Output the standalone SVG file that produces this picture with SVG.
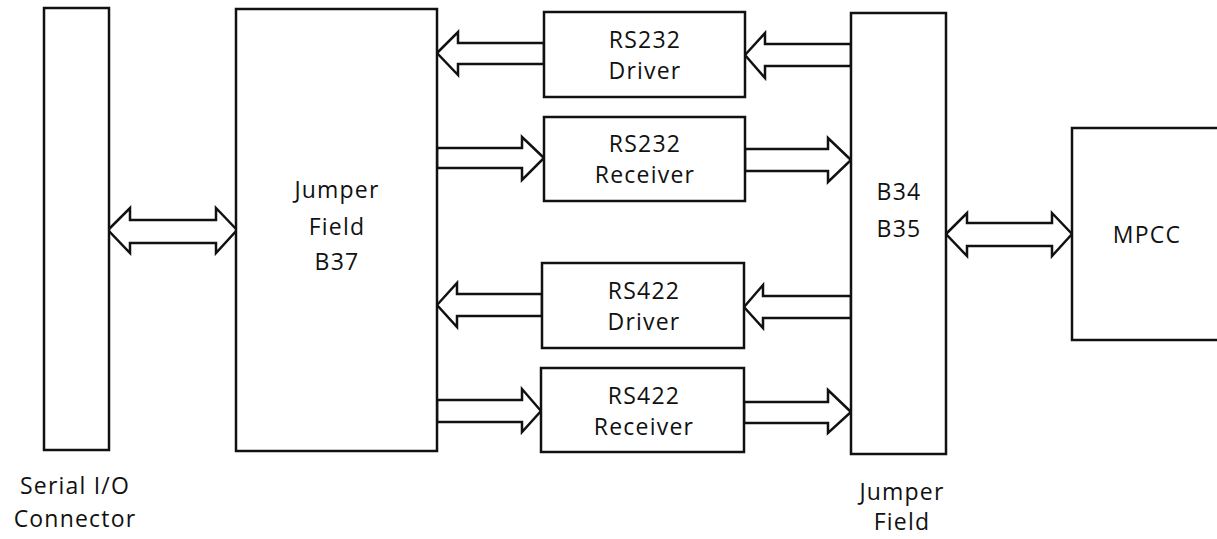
<svg xmlns="http://www.w3.org/2000/svg" width="1217" height="539" viewBox="0 0 1217 539">
<style>
.box{fill:#fff;stroke:#111;stroke-width:2.5}
.arr{fill:#fff;stroke:#111;stroke-width:2.5;stroke-linejoin:miter}
text{font-family:"Open Sans","Liberation Sans",sans-serif;font-size:23px;letter-spacing:1.2px;fill:#111;text-anchor:middle}
</style>
<rect width="1217" height="539" fill="#fff"/>
<g id="connectors">
<polygon class="arr" points="108,230 130,208 130,220 216,220 216,208 237,230 216,253 216,243 130,243 130,253"/>
<polygon class="arr" points="946,234 967,213 967,223 1052,223 1052,213 1072,234 1052,256 1052,246 967,246 967,256"/>
<polygon class="arr" points="437,53 458,32 458,43 544,43 544,64 458,64 458,75"/>
<polygon class="arr" points="745,55 765,33 765,44 851,44 851,66 765,66 765,78"/>
<polygon class="arr" points="544,158 522,137 522,148 437,148 437,168 522,168 522,180"/>
<polygon class="arr" points="851,160 828,138 828,149 745,149 745,171 828,171 828,182"/>
<polygon class="arr" points="437,305 457,283 457,294 542,294 542,316 457,316 457,327"/>
<polygon class="arr" points="744,307 763,285 763,296 851,296 851,318 763,318 763,328"/>
<polygon class="arr" points="541,411 522,389 522,400 437,400 437,422 522,422 522,432"/>
<polygon class="arr" points="851,412 828,390 828,402 744,402 744,423 828,423 828,433"/>
</g>
<g id="serial-io">
<rect class="box" x="44" y="8" width="65" height="442"/>
<text x="75" y="494">Serial I/O</text>
<text x="75" y="527">Connector</text>
</g>
<g id="jumper-b37">
<rect class="box" x="236" y="9" width="201" height="442"/>
<text x="337" y="198">Jumper</text>
<text x="337" y="235">Field</text>
<text x="337" y="270">B37</text>
</g>
<g id="rs232-driver">
<rect class="box" x="544" y="12" width="201" height="85"/>
<text x="645" y="48">RS232</text>
<text x="645" y="79">Driver</text>
</g>
<g id="rs232-receiver">
<rect class="box" x="544" y="117" width="201" height="84"/>
<text x="645" y="152">RS232</text>
<text x="645" y="183">Receiver</text>
</g>
<g id="rs422-driver">
<rect class="box" x="542" y="263" width="202" height="85"/>
<text x="644" y="299">RS422</text>
<text x="644" y="330">Driver</text>
</g>
<g id="rs422-receiver">
<rect class="box" x="541" y="368" width="203" height="84"/>
<text x="644" y="404">RS422</text>
<text x="644" y="435">Receiver</text>
</g>
<g id="jumper-b34-b35">
<rect class="box" x="851" y="13" width="95" height="441"/>
<text x="899" y="200">B34</text>
<text x="899" y="237">B35</text>
<text x="902" y="500">Jumper</text>
<text x="902" y="530">Field</text>
</g>
<g id="mpcc">
<rect class="box" x="1072" y="128" width="160" height="212"/>
<text x="1147" y="243">MPCC</text>
</g>
</svg>
